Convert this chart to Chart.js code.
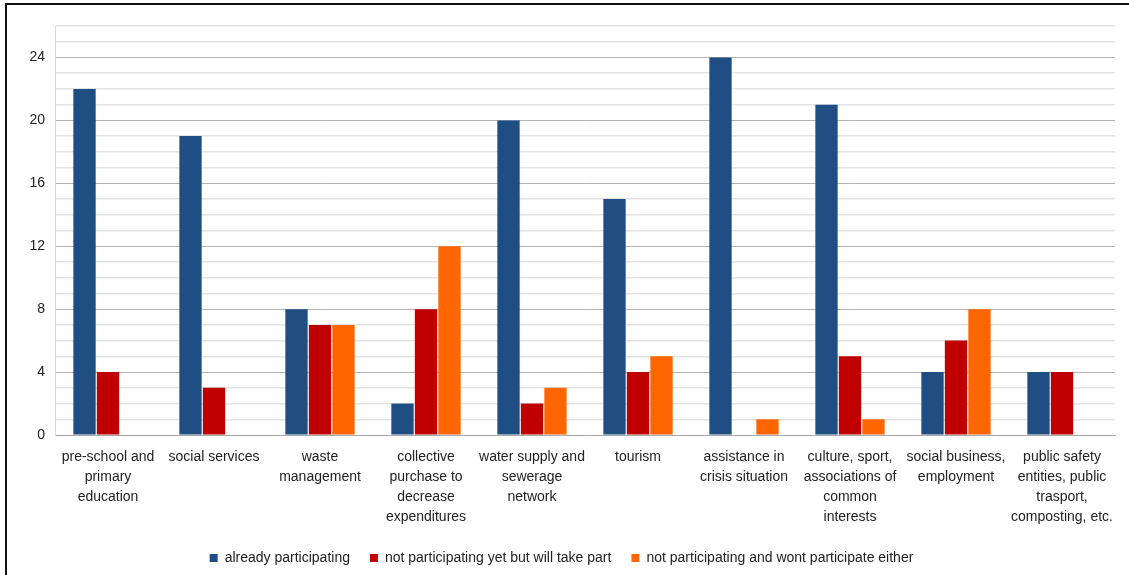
<!DOCTYPE html>
<html>
<head>
<meta charset="utf-8">
<script src="https://cdn.jsdelivr.net/npm/chart.js@4/dist/chart.umd.min.js"></script>
<style>
  html, body { margin: 0; padding: 0; background: #fff; }
  #wrap { position: relative; width: 1129px; height: 575px; overflow: hidden; }
  #frame { position: absolute; left: 5px; top: 3px; width: 1140px; height: 600px; border-top: 2px solid #111; border-left: 2px solid #111; pointer-events: none; }
  canvas { position: absolute; left: 0; top: 0; }
</style>
</head>
<body>
<div id="wrap">
  <canvas id="chart" width="1129" height="575"></canvas>
  <div id="frame"></div>
</div>
<script>
// categories (multi-line labels as drawn under the axis)
const categories = [
  ['pre-school and', 'primary', 'education'],
  ['social services'],
  ['waste', 'management'],
  ['collective', 'purchase to', 'decrease', 'expenditures'],
  ['water supply and', 'sewerage', 'network'],
  ['tourism'],
  ['assistance in', 'crisis situation'],
  ['culture, sport,', 'associations of', 'common', 'interests'],
  ['social business,', 'employment'],
  ['public safety', 'entities, public', 'trasport,', 'composting, etc.']
]

const alreadyParticipating = [22, 19, 8, 2, 20, 15, 24, 21, 4, 4]
const willTakePart = [4, 3, 7, 8, 2, 4, 0, 5, 6, 4]
const wontParticipate = [0, 0, 7, 12, 3, 5, 1, 1, 8, 0]

const seriesNames = [
  'already participating',
  'not participating yet but will take part',
  'not participating and wont participate either'
]

const yMax = 26
const majorStep = 4

const font = { family: 'Liberation Sans, Arial, sans-serif', size: 14 }
Chart.defaults.font.family = font.family

const ctx = document.getElementById('chart').getContext('2d')

new Chart(ctx, {
  type: 'bar',
  data: {
    labels: categories,
    datasets: [
      { label: seriesNames[0], data: alreadyParticipating, backgroundColor: '#1f4e82' },
      { label: seriesNames[1], data: willTakePart, backgroundColor: '#c00000' },
      { label: seriesNames[2], data: wontParticipate, backgroundColor: '#ff6600' }
    ]
  },
  options: {
    responsive: false,
    animation: false,
    layout: { padding: { left: 8, top: 26, right: 14, bottom: 0 } },
    datasets: {
      bar: { categoryPercentage: 0.665, barPercentage: 0.95, borderWidth: 0 }
    },
    plugins: {
      legend: {
        position: 'bottom',
        labels: {
          color: '#222',
          font: font,
          boxWidth: 8,
          boxHeight: 8,
          padding: 20
        }
      },
      tooltip: { enabled: false }
    },
    scales: {
      x: {
        grid: { display: false },
        border: { color: '#a6a6a6', width: 1 },
        ticks: {
          color: '#222',
          font: { family: font.family, size: 14, lineHeight: 1.43 },
          maxRotation: 0,
          autoSkip: false,
          padding: 4
        },
        afterFit: (scale) => { scale.height = 96 }
      },
      y: {
        min: 0,
        max: yMax,
        border: { color: '#d9d9d9' },
        grid: {
          color: (c) => (c.tick && c.tick.value % majorStep === 0) ? '#b3b3b3' : '#e3e3e3',
          lineWidth: (c) => (c.tick && c.tick.value % majorStep === 0) ? 1 : 1.5,
          drawTicks: false
        },
        ticks: {
          stepSize: 1,
          autoSkip: false,
          maxTicksLimit: 40,
          color: '#222',
          font: font,
          padding: 10,
          callback: (v) => (v % majorStep === 0 ? v : '')
        },
        afterFit: (scale) => { scale.width = 47 }
      }
    }
  }
})
</script>
</body>
</html>
